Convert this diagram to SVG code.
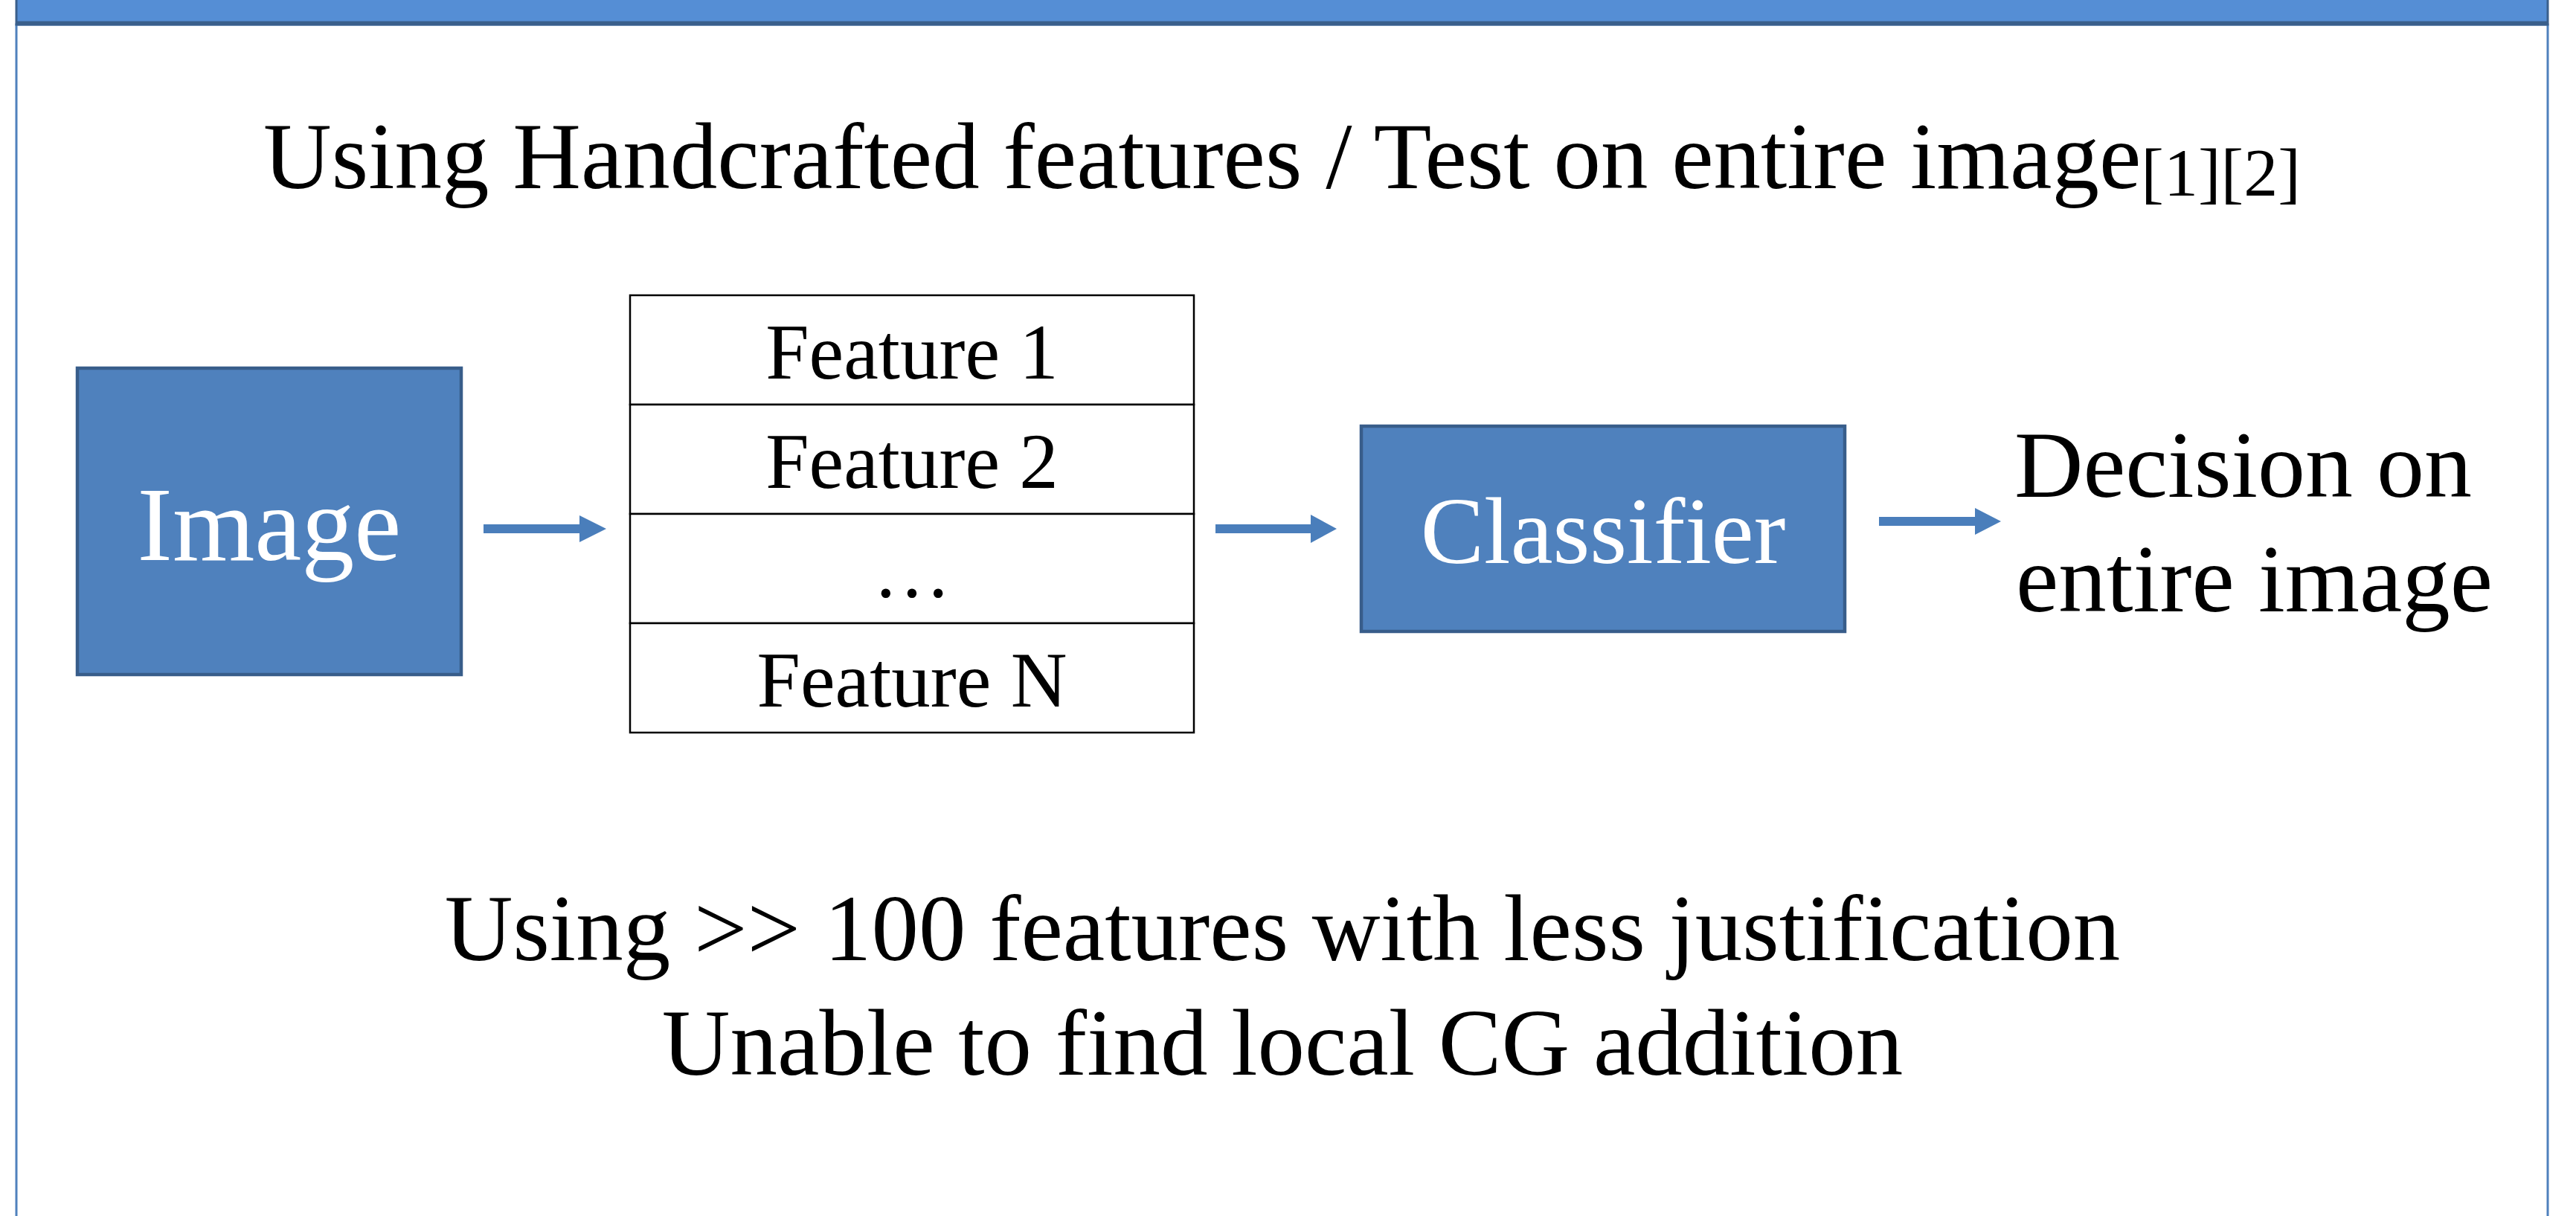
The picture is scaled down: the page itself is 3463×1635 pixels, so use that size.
<svg xmlns="http://www.w3.org/2000/svg" width="3463" height="1635" viewBox="0 0 3463 1635">
<style>
.t{font-family:"Liberation Serif","Times New Roman",serif;fill:#000}
.w{font-family:"Liberation Serif","Times New Roman",serif;fill:#fff}
.box{fill:#4F81BD;stroke:#385D8A;stroke-width:4.5}
.cell{fill:#fff;stroke:#000;stroke-width:2.5}
.arrow{fill:#4A7EBB}
</style>
<rect width="3463" height="1635" fill="#fff"/>
<g id="frame">
<rect x="22" y="33" width="3403" height="1640" fill="#fff" stroke="#4F81BD" stroke-width="3"/>
<rect x="22" y="-10" width="3403" height="43" fill="#558ED5" stroke="#3A5F8B" stroke-width="3"/>
<line x1="22" y1="31" x2="3425" y2="31" stroke="#3A5F8B" stroke-width="5"/>
</g>
<g id="title">
<text class="t" x="354" y="253" font-size="127">Using Handcrafted features / Test on entire image<tspan font-size="92" dy="10">[1][2]</tspan></text>
</g>
<g id="image">
<rect class="box" x="104" y="495" width="516" height="412"/>
<text class="w" x="362" y="753" font-size="142" text-anchor="middle">Image</text>
</g>
<g id="features">
<rect class="cell" x="847" y="397" width="758" height="147"/>
<rect class="cell" x="847" y="544" width="758" height="147"/>
<rect class="cell" x="847" y="691" width="758" height="147"/>
<rect class="cell" x="847" y="838" width="758" height="147"/>
<text class="t" x="1226" y="509" font-size="105" text-anchor="middle">Feature 1</text>
<text class="t" x="1226" y="656" font-size="105" text-anchor="middle">Feature 2</text>
<text class="t" x="1226" y="803" font-size="105" text-anchor="middle">…</text>
<text class="t" x="1226" y="950" font-size="105" text-anchor="middle">Feature N</text>
</g>
<g id="classifier">
<rect class="box" x="1830" y="573" width="650" height="276"/>
<text class="w" x="2155" y="757" font-size="128" text-anchor="middle">Classifier</text>
</g>
<g id="decision">
<text class="t" x="2708" y="668" font-size="128">Decision on</text>
<text class="t" x="2710" y="822" font-size="129">entire image</text>
</g>
<g id="connectors">
<polygon class="arrow" points="650,705 779,705 779,693 815,711 779,729 779,717 650,717"/>
<polygon class="arrow" points="1634,705 1762,705 1762,692 1797,711 1762,730 1762,717 1634,717"/>
<polygon class="arrow" points="2526,695 2655,695 2655,683 2690,701 2655,719 2655,707 2526,707"/>
</g>
<g id="notes">
<text class="t" x="1724" y="1291" font-size="127" text-anchor="middle">Using &gt;&gt; 100 features with less justification</text>
<text class="t" x="1724" y="1445" font-size="127" text-anchor="middle">Unable to find local CG addition</text>
</g>
</svg>
